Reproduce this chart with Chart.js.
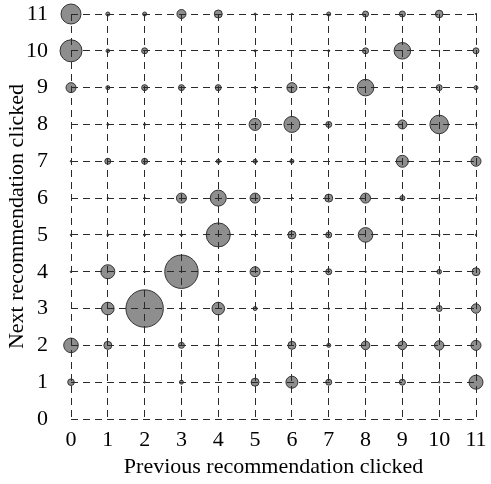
<!DOCTYPE html>
<html>
<head>
<meta charset="utf-8">
<script src="https://cdn.jsdelivr.net/npm/chart.js@4.4.1/dist/chart.umd.min.js"></script>
<style>
  html, body { margin: 0; padding: 0; background: #fff; }
  #wrap { width: 491px; height: 484px; }
</style>
</head>
<body>
<div id="wrap"><canvas id="chart" width="491" height="484"></canvas></div>
<script>
"use strict";

// previous recommendation (x) and next recommendation (y)
const categories = [0, 1, 2, 3, 4, 5, 6, 7, 8, 9, 10, 11];
const xTitle = "Previous recommendation clicked";
const yTitle = "Next recommendation clicked";

// bubble radius, one row per "next" value
const row0 = [0, 0, 0, 0, 0, 0, 0, 0, 0, 0, 0, 0];
const row1 = [3.3, 0, 0.8, 2, 0, 4, 6, 3, 0, 3, 0.8, 7];
const row2 = [7.3, 4, 0, 3, 0.8, 0, 4, 2, 4.3, 4.3, 4.7, 5];
const row3 = [0, 6.3, 18.7, 0.8, 6.3, 2, 0.7, 0.8, 0.8, 0.8, 3, 4.7];
const row4 = [0.8, 7, 0.8, 16.7, 0, 5, 0, 3, 0.7, 0, 2.3, 4];
const row5 = [0.8, 1, 1, 1, 12, 0.5, 4, 3, 7.3, 0, 0.8, 0.8];
const row6 = [0, 0.7, 0.8, 5, 8, 5, 0.7, 4, 5, 2.5, 0.5, 0.5];
const row7 = [0.8, 3, 3, 0.8, 2, 2, 2, 0, 0, 6, 0.7, 5];
const row8 = [0, 1, 1, 0, 0, 6, 8, 3, 0, 4.5, 9.3, 0.8];
const row9 = [5, 2, 3, 3, 3, 1, 5, 1, 8.3, 0.7, 3, 2];
const row10 = [11, 1.8, 3, 0, 0, 1, 0, 1, 3, 8.3, 0.5, 3];
const row11 = [10, 2, 2, 4.5, 4, 1, 0.7, 2, 3, 3, 3.8, 0.7];

const rows = [row0, row1, row2, row3, row4, row5, row6, row7, row8, row9, row10, row11];

let points = [];
for (let y = 0; y < rows.length; y++) {
  for (let i = 0; i < categories.length; i++) {
    if (rows[y][i] > 0) {
      points.push({ x: categories[i], y: categories[y], r: rows[y][i] });
    }
  }
}

const font = { family: "'Liberation Serif', 'Times New Roman', serif", size: 22 };

function axis(title, fixSize) {
  return {
    type: "linear",
    min: 0,
    max: 11,
    ticks: { stepSize: 1, color: "#000", font: font, padding: 8 },
    grid: { color: "#2a2a2a", lineWidth: 1, drawTicks: false, z: 1 },
    border: { display: false, dash: [7, 5] },
    title: { display: true, text: title, color: "#000", font: font, padding: 4 },
    afterFit: fixSize
  };
}

const xAxis = axis(xTitle, function (scale) {
  scale.height = 65;
  scale.paddingLeft = 0;
  scale.paddingRight = 15;
});
const yAxis = axis(yTitle, function (scale) {
  scale.width = 71;
  scale.paddingTop = 14;
  scale.paddingBottom = 0;
});
yAxis.ticks.padding = 23;

const ctx = document.getElementById("chart");
new Chart(ctx, {
  type: "bubble",
  data: {
    datasets: [{
      data: points,
      backgroundColor: "#8e8e8e",
      borderColor: "#333",
      borderWidth: 1,
      clip: false
    }]
  },
  options: {
    responsive: false,
    animation: false,
    layout: { padding: 0, autoPadding: false },
    plugins: { legend: { display: false }, tooltip: { enabled: false } },
    scales: { x: xAxis, y: yAxis }
  }
});
</script>
</body>
</html>
